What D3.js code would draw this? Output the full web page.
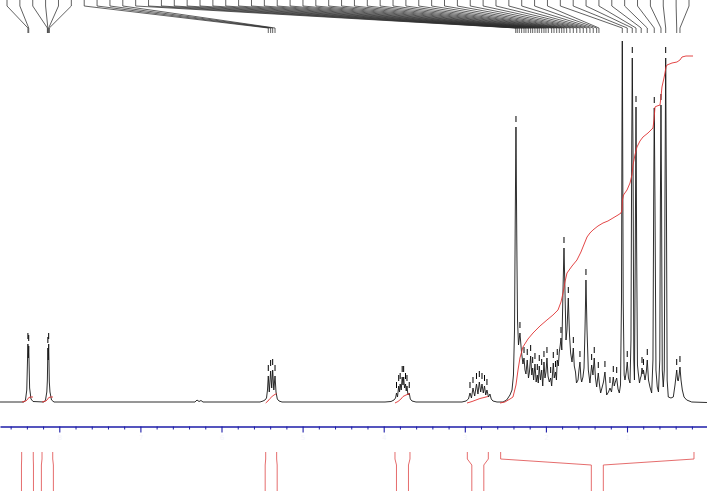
<!DOCTYPE html>
<html><head><meta charset="utf-8">
<script src="https://cdn.jsdelivr.net/npm/d3@7"></script>
<style>body{margin:0;background:#fff}svg{display:block}</style>
</head><body>
<svg id="c" width="707" height="491"></svg>
<script>
// 1H NMR trace: [chemical shift (ppm), intensity (a.u.)]
const spectrum = [
[8.731,0],[8.435,0],[8.417,2],[8.401,12],[8.387,58],[8.382,44],[8.377,56],[8.366,14],[8.349,3],[8.324,0.5],
[8.189,0],[8.170,2],[8.154,10],[8.147,22],[8.141,54],[8.136,42],[8.131,58],[8.123,20],[8.115,10],[8.096,2],[8.065,0],
[6.327,0],[6.302,2],[6.277,0.5],[6.253,1.5],[6.228,0],
[5.525,0],[5.488,1],[5.464,2],[5.445,4],[5.433,12],[5.423,26],[5.411,10],[5.394,31],[5.381,14],[5.369,32],[5.355,12],[5.340,26],[5.328,10],[5.312,3],[5.291,1],[5.254,0],
[3.984,0],[3.910,0.5],[3.873,2],[3.854,4],[3.842,9],[3.830,5],[3.815,16],[3.805,10],[3.797,18],[3.784,12],[3.772,25],[3.762,17],[3.754,25],[3.743,14],[3.731,18],[3.722,11],[3.713,16],[3.701,7],[3.685,9],[3.672,3],[3.651,1],[3.602,0],
[3.035,0],[2.985,1],[2.955,3],[2.936,9],[2.918,4],[2.899,14],[2.878,6],[2.856,18],[2.838,8],[2.821,20],[2.804,10],[2.788,18],[2.772,9],[2.757,16],[2.742,7],[2.727,12],[2.708,5],[2.690,8],[2.674,3],[2.653,1],[2.603,0],
[2.529,0],[2.484,2],[2.443,7],[2.418,12],[2.400,27],[2.387,72],[2.378,182],[2.369,275],[2.359,162],[2.350,82],[2.338,57],[2.320,69],[2.301,50],[2.283,38],[2.270,44],[2.258,32],[2.246,28],[2.230,42],[2.215,24],[2.203,30],[2.188,46],[2.174,27],[2.163,34],[2.151,22],[2.135,38],[2.120,20],[2.106,27],[2.094,19],[2.082,36],[2.067,22],[2.052,32],[2.039,16],[2.024,40],[2.011,24],[1.999,30],[1.987,44],[1.974,26],[1.958,20],[1.941,24],[1.929,16],[1.909,39],[1.897,24],[1.882,30],[1.870,22],[1.860,42],[1.847,36],[1.835,50],[1.823,57],[1.814,64],[1.804,52],[1.789,112],[1.777,154],[1.765,112],[1.752,62],[1.740,72],[1.724,104],[1.709,67],[1.695,49],[1.678,40],[1.662,54],[1.650,36],[1.635,30],[1.623,19],[1.604,22],[1.592,32],[1.580,40],[1.568,24],[1.559,20],[1.543,25],[1.530,34],[1.518,72],[1.506,122],[1.493,72],[1.477,32],[1.457,19],[1.436,37],[1.420,27],[1.404,44],[1.389,24],[1.374,15],[1.354,29],[1.339,17],[1.325,9],[1.309,14],[1.290,20],[1.272,30],[1.259,17],[1.251,7],[1.228,10],[1.210,14],[1.191,10],[1.169,25],[1.157,16],[1.148,19],[1.127,24],[1.111,13],[1.095,9],[1.080,17],[1.068,102],[1.058,385],[1.047,102],[1.035,27],[1.025,22],[1.009,30],[0.997,40],[0.982,24],[0.963,19],[0.951,62],[0.942,252],[0.935,344],[0.926,252],[0.916,42],[0.908,22],[0.898,152],[0.889,295],[0.881,152],[0.871,37],[0.861,29],[0.846,19],[0.834,24],[0.825,26],[0.815,34],[0.803,28],[0.797,32],[0.778,22],[0.762,30],[0.750,42],[0.735,22],[0.717,15],[0.696,9],[0.680,42],[0.671,202],[0.664,294],[0.655,202],[0.643,32],[0.627,15],[0.612,10],[0.596,42],[0.588,202],[0.581,297],[0.574,202],[0.565,32],[0.553,15],[0.540,32],[0.532,202],[0.523,344],[0.514,202],[0.505,22],[0.491,5],[0.458,4],[0.429,5],[0.408,17],[0.387,32],[0.376,22],[0.368,21],[0.357,27],[0.347,35],[0.334,22],[0.318,12],[0.297,5],[0.264,2],[0.202,0],[0.014,-0.5]
];

// integral curves, one per integration region: [ppm, cumulative integral (a.u.)]
const integral1 = [[8.460,0],[8.411,1],[8.388,3],[8.376,4.5],[8.349,5],[8.324,5]];
const integral2 = [[8.213,0],[8.164,1],[8.142,3],[8.130,4.5],[8.102,5],[8.078,5]];
const integral3 = [[5.455,-1],[5.427,1],[5.402,3.5],[5.377,5.5],[5.353,7],[5.320,8.5]];
const integral4 = [[3.861,-1],[3.824,0.5],[3.787,3],[3.762,5.5],[3.725,7],[3.676,8.5]];
const integral5 = [[2.973,-1],[2.911,0.5],[2.862,2],[2.813,3.5],[2.763,4.5],[2.714,5.5]];
const integral6 = [[2.566,-1],[2.505,0],[2.443,3],[2.406,5],[2.369,17],[2.344,32],[2.320,44],[2.283,55],[2.221,63],[2.159,69],[2.073,76],[1.987,82],[1.913,87],[1.851,92],[1.814,100],[1.789,109],[1.765,120],[1.740,129],[1.678,136],[1.617,142],[1.568,150],[1.543,155],[1.493,165],[1.457,169],[1.420,172],[1.358,176],[1.296,179],[1.235,181],[1.173,184],[1.111,187],[1.074,189],[1.062,192],[1.056,202],[1.043,207],[1.000,212],[0.963,219],[0.939,227],[0.926,237],[0.902,247],[0.877,255],[0.840,261],[0.803,265],[0.741,269],[0.680,274],[0.667,282],[0.655,295],[0.630,296],[0.593,297],[0.581,305],[0.569,315],[0.544,324],[0.532,329],[0.519,335],[0.507,337],[0.445,339],[0.384,340],[0.347,342],[0.322,345],[0.273,346],[0.186,346]];
const integralCurves = [integral1, integral2, integral3, integral4, integral5, integral6];

// integration regions [from ppm, to ppm]
const integralRegions = [[8.464,8.321],[8.213,8.081],[5.455,5.320],[3.861,3.676],[2.969,2.710],[2.558,0.174]];

// picked peaks carrying a label (ppm)
const labeledPeaks = [
8.387,8.377,8.147,8.141,8.131,8.123,
5.423,5.394,5.369,5.340,
2.372,2.353,2.328,2.299,2.270,2.246,2.217,2.188,2.163,2.135,2.106,2.082,2.052,2.024,1.999,1.970,1.929,1.900,1.867,1.835,1.805,1.777,1.744,1.703,1.662,1.620,1.580,1.539,1.497,1.457,1.416,1.374,1.346,
1.058,0.997,0.935,0.889,0.825,0.750,0.664,0.581,0.523,0.387,0.347
];

const axisMajorTicks = [8,7,6,5,4,3,2,1];
const axisTickLabels = ["8","7","6","5","4","3","2","1"];
const axisMinorStep = 0.2;

const W = 707, H = 491;
const svg = d3.select("#c");
const x = d3.scaleLinear().domain([8.7312, 0.0136]).range([0, W]);
const y = d3.scaleLinear().domain([0, 362]).range([402, 40]);

svg.append("defs").append("clipPath").attr("id","plotclip")
  .append("rect").attr("x",0).attr("y",41).attr("width",W).attr("height",H-41);

const plot = svg.append("g").attr("clip-path","url(#plotclip)");
const line = d3.line().x(d => x(d[0])).y(d => y(d[1]));

plot.append("path").datum(spectrum)
  .attr("d", line).attr("fill","none").attr("stroke","#161616").attr("stroke-width",0.9)
  .attr("stroke-linejoin","round");

// peak pick markers at local maxima
const maxima = spectrum.filter((d,i) => i>0 && i<spectrum.length-1 &&
  d[1] > spectrum[i-1][1] && d[1] >= spectrum[i+1][1] && d[1] > 8);
plot.selectAll("line.mk").data(maxima).join("line").attr("class","mk")
  .attr("x1", d => x(d[0])).attr("x2", d => x(d[0]))
  .attr("y1", d => y(d[1]) - 11).attr("y2", d => y(d[1]) - 5)
  .attr("stroke","#000").attr("stroke-width",1);

// integral curves
plot.selectAll("path.int").data(integralCurves).join("path").attr("class","int")
  .attr("d", line).attr("fill","none").attr("stroke","#e03232").attr("stroke-width",0.9);

// peak label leader lines
const lab = d3.scalePoint().domain(d3.range(labeledPeaks.length)).range([7, 689]);
svg.append("g").selectAll("path").data(labeledPeaks).join("path")
  .attr("d", (p,i) => {
    const lx = lab(i), px = x(p);
    return `M${lx},0V6L${px},28V33`;
  })
  .attr("fill","none").attr("stroke","#2e2e2e").attr("stroke-width",0.75);

// integration brackets
svg.append("g").selectAll("path").data(integralRegions).join("path")
  .attr("d", r => {
    const x0 = x(r[0]), x1 = x(r[1]), xc = (x0 + x1) / 2;
    return `M${x0},452V459L${xc-6},465V${H}M${x1},452V459L${xc+6},465V${H}`;
  })
  .attr("fill","none").attr("stroke","#e25c5c").attr("stroke-width",0.9);

// ppm axis
const axisColor = "#1c1ca8";
const minorTicks = d3.range(1, 44).map(i => +(i*axisMinorStep).toFixed(1)).filter(v => Math.abs(v - Math.round(v)) > 1e-6);
const gMinor = svg.append("g").attr("transform","translate(0,426.5)")
  .call(d3.axisBottom(x).tickValues(minorTicks).tickSize(3).tickSizeOuter(0).tickFormat(""));
gMinor.select(".domain").remove();
gMinor.selectAll(".tick line").attr("stroke", axisColor);

const gMajor = svg.append("g").attr("transform","translate(0,426.5)")
  .call(d3.axisBottom(x).tickValues(axisMajorTicks).tickSize(6).tickSizeOuter(0)
    .tickFormat((d,i) => axisTickLabels[i]));
gMajor.select(".domain").attr("stroke", axisColor).attr("stroke-width",1.3);
gMajor.selectAll(".tick line").attr("stroke", axisColor).attr("stroke-width",1.1);
gMajor.selectAll(".tick text").attr("fill","#f5f5fa").attr("font-size",7)
  .attr("font-family","DejaVu Sans, sans-serif");
</script>
</body></html>
